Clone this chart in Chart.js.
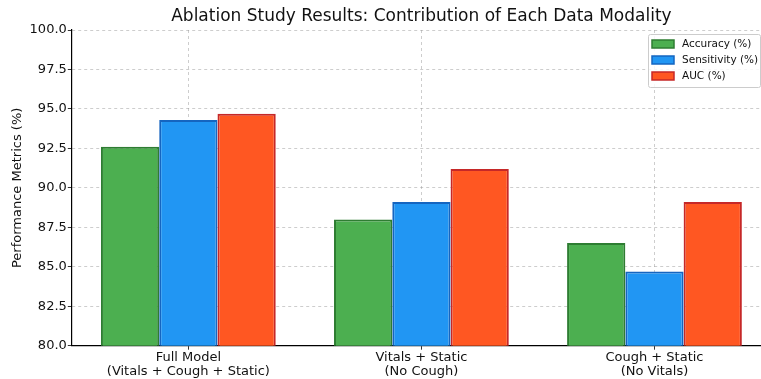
<!DOCTYPE html>
<html>
<head>
<meta charset="utf-8">
<script src="https://cdn.jsdelivr.net/npm/chart.js@4/dist/chart.umd.min.js"></script>
<style>
    html, body { margin: 0; padding: 0; background: #fff; overflow: hidden; }
    #clip { width: 761px; height: 379px; overflow: hidden; }
    #wrap { position: relative; width: 771px; height: 379px; }
</style>
</head>
<body>
<div id="clip"><div id="wrap"><canvas id="ablation-chart"></canvas></div></div>
<script>
const categories = [
    ['Full Model', '(Vitals + Cough + Static)'],
    ['Vitals + Static', '(No Cough)'],
    ['Cough + Static', '(No Vitals)']
];
const accuracy = [92.6, 88.0, 86.5];
const sensitivity = [94.3, 89.1, 84.7];
const auc = [94.7, 91.2, 89.1];
const yTicks = [80.0, 82.5, 85.0, 87.5, 90.0, 92.5, 95.0, 97.5, 100.0];
const chartTitle = 'Ablation Study Results: Contribution of Each Data Modality';

const FONT = 'DejaVu Sans';
const GRID = 'rgba(150,150,150,0.6)';

// title centred over the plot area (matplotlib style)
const axesTitle = {
    id: 'axesTitle',
    afterDraw(chart) {
        const ctx = chart.ctx;
        const area = chart.chartArea;
        ctx.save();
        ctx.font = '17px ' + FONT;
        ctx.fillStyle = '#111';
        ctx.textAlign = 'center';
        ctx.textBaseline = 'middle';
        ctx.fillText(chartTitle, (area.left + area.right) / 2, area.top - 13);
        ctx.restore();
    }
};

// legend drawn inside the plot, top right
const innerLegend = {
    id: 'innerLegend',
    afterDraw(chart) {
        const ctx = chart.ctx;
        const area = chart.chartArea;
        const x = area.right - 123, y = area.top + 4;
        const w = 112, h = 53;
        ctx.save();
        ctx.fillStyle = 'rgba(255,255,255,0.85)';
        ctx.strokeStyle = '#ccc';
        ctx.lineWidth = 1;
        ctx.beginPath();
        ctx.roundRect(x + 0.5, y + 0.5, w, h, 2);
        ctx.fill();
        ctx.stroke();
        ctx.font = '10.5px ' + FONT;
        ctx.textBaseline = 'middle';
        chart.data.datasets.forEach((ds, i) => {
            const ry = y + 10 + i * 16;
            ctx.fillStyle = ds.backgroundColor;
            ctx.strokeStyle = ds.borderColor;
            ctx.lineWidth = 1.5;
            ctx.fillRect(x + 4, ry - 4, 22, 8);
            ctx.strokeRect(x + 4, ry - 4, 22, 8);
            ctx.fillStyle = '#111';
            ctx.fillText(ds.label, x + 34, ry + 0.5);
        });
        ctx.restore();
    }
};

new Chart(document.getElementById('ablation-chart').getContext('2d'), {
    type: 'bar',
    data: {
        labels: categories,
        datasets: [
            {
                label: 'Accuracy (%)',
                data: accuracy,
                backgroundColor: '#4caf50',
                borderColor: '#2e7d32',
                borderWidth: 2,
            },
            {
                label: 'Sensitivity (%)',
                data: sensitivity,
                backgroundColor: '#2196f3',
                borderColor: '#1565c0',
                borderWidth: 2,
            },
            {
                label: 'AUC (%)',
                data: auc,
                backgroundColor: '#ff5722',
                borderColor: '#c62828',
                borderWidth: 2,
            }
        ]
    },
    options: {
        responsive: true,
        maintainAspectRatio: false,
        animation: false,
        categoryPercentage: 0.75,
        barPercentage: 1.0,
        layout: { padding: { top: 30, right: 0, left: 10, bottom: 0 } },
        plugins: {
            legend: { display: false },
            tooltip: { enabled: false },
            title: { display: false }
        },
        scales: {
            x: {
                z: 1,
                grid: {
                    offset: false,
                    color: GRID,
                    lineWidth: 0.8,
                    tickColor: '#000',
                    tickLength: 4,
                },
                border: { color: '#000', width: 1.2, dash: [3, 3] },
                ticks: {
                    color: '#111',
                    font: { family: FONT, size: 13, lineHeight: 1.05 },
                    maxRotation: 0,
                    padding: 1,
                }
            },
            y: {
                z: 1,
                min: 80,
                max: 100,
                afterBuildTicks: (axis) => { axis.ticks = yTicks.map(v => ({ value: v })); },
                grid: {
                    color: GRID,
                    lineWidth: 0.8,
                    tickColor: '#000',
                    tickLength: 4,
                },
                border: { color: '#000', width: 1.2, dash: [3, 3] },
                title: {
                    display: true,
                    text: 'Performance Metrics (%)',
                    color: '#111',
                    font: { family: FONT, size: 13 },
                    padding: { top: 0, bottom: 3 }
                },
                ticks: {
                    color: '#111',
                    font: { family: FONT, size: 13 },
                    padding: 1,
                    callback: (v) => Number(v).toFixed(1)
                }
            }
        }
    },
    plugins: [axesTitle, innerLegend]
});
</script>
</body>
</html>
